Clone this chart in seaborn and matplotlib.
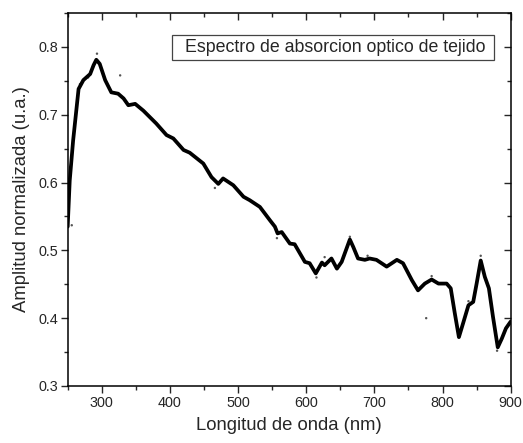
import pandas as pd
import seaborn as sns
import matplotlib.pyplot as plt
from matplotlib.patches import Rectangle
from matplotlib.ticker import MultipleLocator

# curva suavizada
wavelength = [250, 253, 258, 266, 273, 283, 288, 292, 297, 305,
              314, 324, 332, 339, 349, 361, 380, 395, 405, 420,
              429, 444, 449, 461, 471, 478, 493, 508, 517, 532,
              547, 554, 558, 564, 576, 583, 598, 605, 614, 623,
              627, 637, 645, 652, 664, 669, 676, 686, 693, 703,
              718, 733, 742, 755, 764, 774, 784, 794, 806, 812,
              818, 824, 830, 838, 845, 850, 856, 862, 868, 874,
              881, 887, 893, 900]
amplitude = [0.535, 0.603, 0.662, 0.738, 0.751, 0.760, 0.773, 0.781, 0.775, 0.751,
             0.733, 0.731, 0.724, 0.714, 0.716, 0.706, 0.687, 0.670, 0.665, 0.648,
             0.644, 0.632, 0.628, 0.608, 0.598, 0.606, 0.596, 0.579, 0.574, 0.564,
             0.544, 0.535, 0.525, 0.527, 0.510, 0.509, 0.483, 0.481, 0.466, 0.482,
             0.478, 0.488, 0.473, 0.483, 0.516, 0.505, 0.488, 0.486, 0.488, 0.486,
             0.476, 0.486, 0.481, 0.456, 0.441, 0.451, 0.457, 0.451, 0.451, 0.444,
             0.407, 0.372, 0.392, 0.419, 0.424, 0.451, 0.485, 0.461, 0.444, 0.402,
             0.357, 0.370, 0.385, 0.395]

# puntos crudos dispersos visibles fuera de la curva
raw_x = [256, 268, 280, 293, 327, 466, 557, 615, 627, 664, 690, 776, 784, 838, 856, 880]
raw_y = [0.537, 0.745, 0.755, 0.790, 0.758, 0.592, 0.518, 0.460, 0.490, 0.520,
         0.492, 0.400, 0.462, 0.425, 0.492, 0.352]

legend_text = 'Espectro de absorcion optico de tejido'

sns.set_style('white')
plt.rcParams['font.family'] = ['Liberation Sans', 'DejaVu Sans']

df = pd.DataFrame({'wl': wavelength, 'amp': amplitude})
raw = pd.DataFrame({'wl': raw_x, 'amp': raw_y})

fig = plt.figure(figsize=(5.23, 4.43), dpi=100)
ax = fig.add_axes([0.1294, 0.1287, 0.8471, 0.842])

sns.scatterplot(x='wl', y='amp', data=raw, ax=ax, s=3, color='#555555',
                edgecolor='none', zorder=2)
sns.lineplot(x='wl', y='amp', data=df, ax=ax, color='black', linewidth=2.7,
             estimator=None, zorder=3)

ax.set_xlim(250, 900)
ax.set_ylim(0.3, 0.85)
ax.xaxis.set_major_locator(MultipleLocator(100))
ax.xaxis.set_minor_locator(MultipleLocator(50))
ax.yaxis.set_major_locator(MultipleLocator(0.1))
ax.yaxis.set_minor_locator(MultipleLocator(0.05))
ax.tick_params(which='major', direction='out', length=5, width=1, labelsize=10.4,
               bottom=True, left=True, pad=2)
ax.tick_params(which='minor', direction='out', length=3, width=1, bottom=True, left=True)

for side in ['top', 'right']:
    if side == 'top':
        sec = ax.secondary_xaxis('top')
        sec.xaxis.set_major_locator(MultipleLocator(100))
        sec.xaxis.set_minor_locator(MultipleLocator(50))
    else:
        sec = ax.secondary_yaxis('right')
        sec.yaxis.set_major_locator(MultipleLocator(0.1))
        sec.yaxis.set_minor_locator(MultipleLocator(0.05))
    sec.tick_params(which='both', direction='in', width=1, labelbottom=False,
                    labeltop=False, labelleft=False, labelright=False)
    sec.tick_params(which='major', length=5)
    sec.tick_params(which='minor', length=3)
    sec.spines[side].set_visible(False)

for sp in ax.spines.values():
    sp.set_color('black')
    sp.set_linewidth(1.1)

ax.set_xlabel('Longitud de onda (nm)', fontsize=13.3, labelpad=5)
ax.set_ylabel('Amplitud normalizada (u.a.)', fontsize=13.3, labelpad=6)

# cuadro de texto tipo Origin
ax.add_patch(Rectangle((0.2348, 0.8748), 0.7282, 0.0654, transform=ax.transAxes,
                       facecolor='white', edgecolor='#444444', linewidth=0.9, zorder=4))
ax.text(0.603, 0.9075, legend_text, transform=ax.transAxes, fontsize=12.8,
        ha='center', va='center', zorder=5)

fig.savefig('out.png', dpi=100)
